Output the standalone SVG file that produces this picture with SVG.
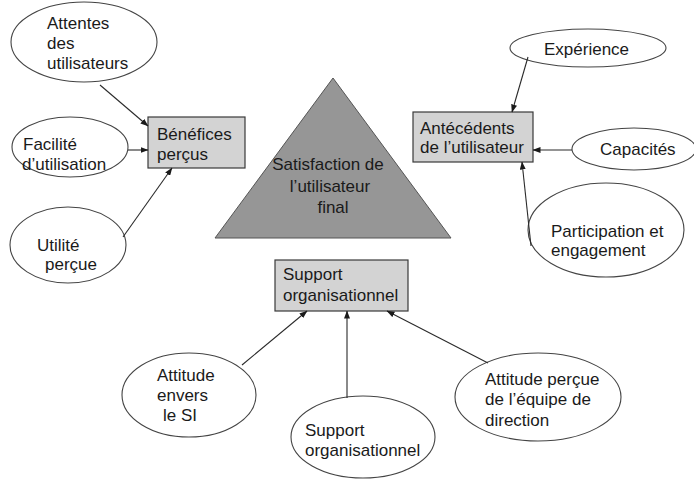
<svg xmlns="http://www.w3.org/2000/svg" width="694" height="480" viewBox="0 0 694 480">
<style>
text{font-family:"Liberation Sans",Arial,sans-serif;font-size:17px;fill:#1a1a1a}
.el{fill:#fff;stroke:#444;stroke-width:1.1}
.bx{fill:#d3d3d3;stroke:#3a3a3a;stroke-width:1.2}
.cn{stroke:#2a2a2a;stroke-width:1.1;fill:none;marker-end:url(#ah)}
.tri{fill:#969696;stroke:#555;stroke-width:1}
</style>
<defs>
<marker id="ah" viewBox="0 0 8 6" refX="7.5" refY="3" markerWidth="8" markerHeight="6" markerUnits="userSpaceOnUse" orient="auto">
<path d="M0,0 L8,3 L0,6 z" fill="#1a1a1a"/>
</marker>
</defs>
<rect width="694" height="480" fill="#fff"/>
<g id="satisfaction">
<polygon class="tri" points="333,78 215,238 451,238"/>
<text x="328" y="170" text-anchor="middle">Satisfaction de</text>
<text x="330" y="192" text-anchor="middle">l’utilisateur</text>
<text x="333" y="213" text-anchor="middle">final</text>
</g>
<g id="benefices">
<rect class="bx" x="148" y="117" width="97" height="51"/>
<text x="157" y="140">Bénéfices</text>
<text x="157" y="160">perçus</text>
</g>
<g id="antecedents">
<rect class="bx" x="413" y="112" width="120" height="50"/>
<text x="420" y="134">Antécédents</text>
<text x="420" y="153">de l’utilisateur</text>
</g>
<g id="support-box">
<rect class="bx" x="275" y="260" width="133" height="51"/>
<text x="283" y="280">Support</text>
<text x="283" y="301">organisationnel</text>
</g>
<g id="attentes">
<ellipse class="el" cx="84" cy="42" rx="73" ry="40"/>
<text x="47" y="29">Attentes</text>
<text x="47" y="49">des</text>
<text x="47" y="69">utilisateurs</text>
</g>
<g id="facilite">
<ellipse class="el" cx="70" cy="147" rx="58" ry="30"/>
<text x="23" y="150">Facilité</text>
<text x="22" y="170">d’utilisation</text>
</g>
<g id="utilite">
<ellipse class="el" cx="68" cy="245" rx="58" ry="38"/>
<text x="37" y="251">Utilité</text>
<text x="45" y="270">perçue</text>
</g>
<g id="experience">
<ellipse class="el" cx="588" cy="48" rx="78" ry="19"/>
<text x="544" y="55">Expérience</text>
</g>
<g id="capacites">
<ellipse class="el" cx="634" cy="149" rx="62" ry="21"/>
<text x="600" y="155">Capacités</text>
</g>
<g id="participation">
<ellipse class="el" cx="606" cy="230" rx="78" ry="47"/>
<text x="551" y="237">Participation et</text>
<text x="551" y="256">engagement</text>
</g>
<g id="attitude-si">
<ellipse class="el" cx="189" cy="395" rx="67" ry="42"/>
<text x="157" y="381">Attitude</text>
<text x="157" y="401">envers</text>
<text x="163" y="421">le SI</text>
</g>
<g id="support-ellipse">
<ellipse class="el" cx="363" cy="437" rx="72" ry="41"/>
<text x="305" y="436">Support</text>
<text x="305" y="456">organisationnel</text>
</g>
<g id="attitude-direction">
<ellipse class="el" cx="538" cy="397" rx="83" ry="44"/>
<text x="485" y="385">Attitude perçue</text>
<text x="485" y="405">de l’équipe de</text>
<text x="485" y="426">direction</text>
</g>
<g id="connectors">
<line class="cn" x1="100" y1="85" x2="148" y2="126"/>
<line class="cn" x1="128" y1="150" x2="148" y2="150"/>
<line class="cn" x1="123" y1="237" x2="172" y2="168"/>
<line class="cn" x1="528" y1="57" x2="512" y2="112"/>
<line class="cn" x1="572" y1="150" x2="533" y2="150"/>
<line class="cn" x1="531" y1="246" x2="522" y2="162"/>
<line class="cn" x1="242" y1="365" x2="307" y2="311"/>
<line class="cn" x1="347" y1="398" x2="347" y2="311"/>
<line class="cn" x1="488" y1="363" x2="387" y2="311"/>
</g>
</svg>
